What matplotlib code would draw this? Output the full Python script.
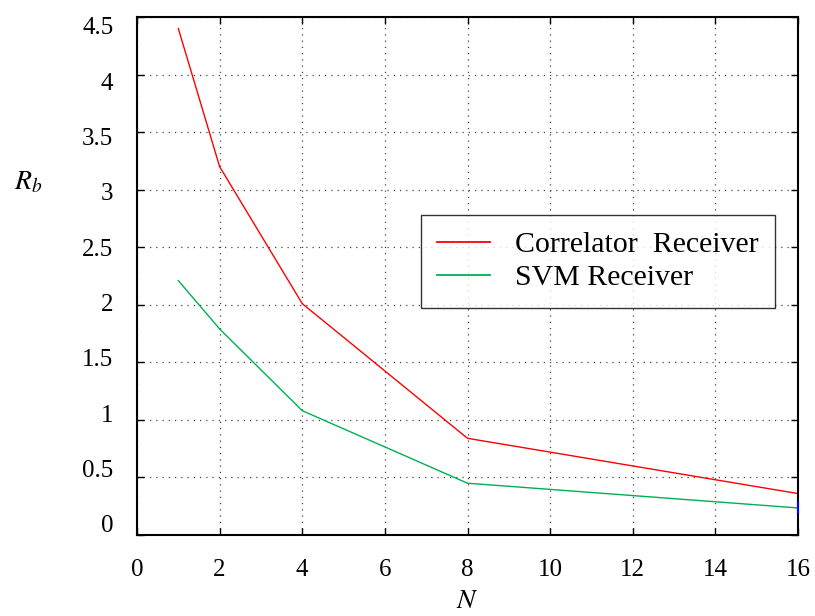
import numpy as np
import matplotlib.pyplot as plt
from matplotlib.transforms import ScaledTranslation

N = [1, 2, 4, 8, 16]
rb_corr = [4.40, 3.20, 2.01, 0.84, 0.36]
rb_svm = [2.21, 1.79, 1.08, 0.45, 0.235]
# tiny blue stub visible at the right edge
N_blue = [16, 16]
rb_blue = [0.19, 0.29]

xticks = np.arange(0, 17, 2)
yticks = np.arange(0, 4.51, 0.5)
ytick_labels = ['0', '0.5', '1', '1.5', '2', '2.5', '3', '3.5', '4', '4.5']

plt.rcParams['font.family'] = ['Liberation Serif', 'DejaVu Serif']
plt.rcParams['mathtext.fontset'] = 'stix'

fig = plt.figure(figsize=(8.15, 6.16), dpi=100)
ax = fig.add_axes([137/815, 1 - 535/616, (798-137)/815, (535-17)/616])

ax.plot(N, rb_corr, color='#ff0000', lw=1.0, label='Correlator  Receiver')
ax.plot(N, rb_svm, color='#00b050', lw=1.0, label='SVM Receiver')
ax.plot(N_blue, rb_blue, color='#0000ff', lw=1.5, clip_on=False, zorder=5)

ax.set_xlim(0, 16)
ax.set_ylim(0, 4.5)
ax.set_xticks(xticks)
ax.set_yticks(yticks)
ax.set_yticklabels(ytick_labels)
ax.tick_params(direction='in', top=True, right=True, labelsize=18,
               length=5, width=1)
ax.tick_params(axis='x', pad=17)
ax.tick_params(axis='y', pad=17)
ax.grid(True, linestyle=(0, (1, 4)), color='#444444', lw=0.9)
for s in ax.spines.values():
    s.set_linewidth(1.5)

# the y labels in the original are squeezed a little towards the middle
for i, lab in enumerate(ax.get_yticklabels()):
    dy = (11 - 2.2 * i) / 100
    lab.set_transform(lab.get_transform() + ScaledTranslation(0, dy, fig.dpi_scale_trans))

ax.set_xlabel('$N$', fontsize=20, labelpad=6)
ax.set_ylabel('$R_b$', fontsize=20, rotation=0, labelpad=0)
ax.yaxis.set_label_coords(-0.164, 0.655)

leg = ax.legend(loc='upper left', bbox_to_anchor=((421-137)/661, (535-215)/518),
                fontsize=21.5, fancybox=False, edgecolor='black',
                handlelength=1.77, handletextpad=0.84, borderpad=0.55,
                labelspacing=0.2, borderaxespad=0)
leg.get_frame().set_linewidth(1.0)
for h in leg.get_lines():
    h.set_linewidth(1.3)

fig.savefig('out.png', dpi=100)
